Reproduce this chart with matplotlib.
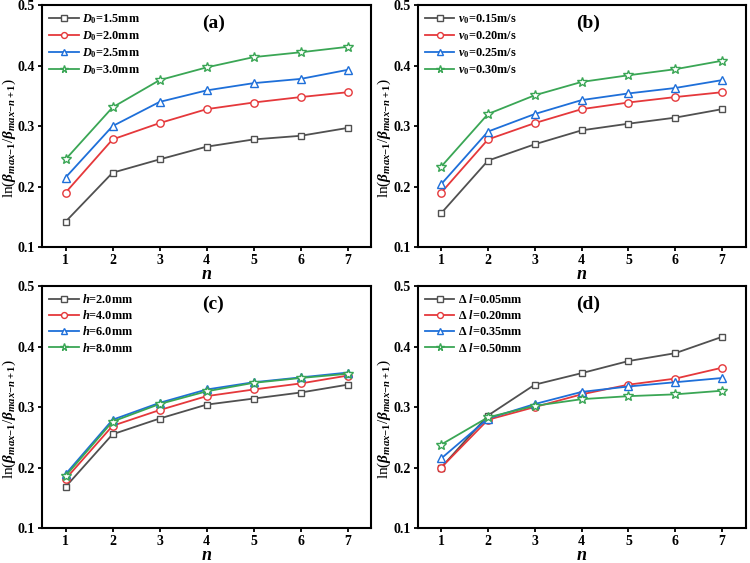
import matplotlib
matplotlib.use("Agg")
import matplotlib.pyplot as plt

plt.rcParams['font.family'] = ['Liberation Serif', 'DejaVu Serif']
plt.rcParams['font.weight'] = 'bold'
plt.rcParams['mathtext.fontset'] = 'custom'
plt.rcParams['mathtext.rm'] = 'Liberation Serif:bold'
plt.rcParams['mathtext.it'] = 'Liberation Serif:bold:italic'
plt.rcParams['mathtext.bf'] = 'Liberation Serif:bold'

n = [1, 2, 3, 4, 5, 6, 7]

# (a) D0
labels_a = ['$D_0$=1.5mm', '$D_0$=2.0mm', '$D_0$=2.5mm', '$D_0$=3.0mm']
a_15 = [0.142, 0.223, 0.245, 0.266, 0.278, 0.284, 0.297]
a_20 = [0.190, 0.278, 0.305, 0.328, 0.339, 0.348, 0.356]
a_25 = [0.215, 0.300, 0.340, 0.359, 0.371, 0.378, 0.393]
a_30 = [0.245, 0.331, 0.376, 0.397, 0.414, 0.422, 0.431]

# (b) v0
labels_b = ['$v_0$=0.15m/s', '$v_0$=0.20m/s', '$v_0$=0.25m/s', '$v_0$=0.30m/s']
b_15 = [0.156, 0.243, 0.270, 0.293, 0.304, 0.314, 0.328]
b_20 = [0.190, 0.278, 0.305, 0.328, 0.339, 0.348, 0.356]
b_25 = [0.204, 0.291, 0.320, 0.343, 0.354, 0.363, 0.376]
b_30 = [0.233, 0.320, 0.351, 0.373, 0.384, 0.394, 0.408]

# (c) h
labels_c = ['$h$=2.0mm', '$h$=4.0mm', '$h$=6.0mm', '$h$=8.0mm']
c_2 = [0.168, 0.255, 0.281, 0.304, 0.314, 0.324, 0.337]
c_4 = [0.181, 0.269, 0.295, 0.318, 0.329, 0.339, 0.352]
c_6 = [0.189, 0.279, 0.307, 0.329, 0.341, 0.349, 0.357]
c_8 = [0.186, 0.276, 0.305, 0.326, 0.340, 0.348, 0.355]

# (d) delta l
labels_d = [r'$\Delta\ l$=0.05mm', r'$\Delta\ l$=0.20mm', r'$\Delta\ l$=0.35mm', r'$\Delta\ l$=0.50mm']
d_05 = [0.200, 0.286, 0.337, 0.356, 0.376, 0.389, 0.416]
d_20 = [0.200, 0.279, 0.300, 0.321, 0.337, 0.347, 0.365]
d_35 = [0.215, 0.281, 0.305, 0.325, 0.334, 0.341, 0.348]
d_50 = [0.238, 0.283, 0.302, 0.313, 0.318, 0.321, 0.327]

colors = ['#505050', '#e5383b', '#1e6fd9', '#3aa655']
markers = ['s', 'o', '^', '*']
msizes = [4.8, 5.3, 5.8, 7.0]

panels = [
    ('(a)', labels_a, [a_15, a_20, a_25, a_30]),
    ('(b)', labels_b, [b_15, b_20, b_25, b_30]),
    ('(c)', labels_c, [c_2, c_4, c_6, c_8]),
    ('(d)', labels_d, [d_05, d_20, d_35, d_50]),
]

fig = plt.figure(figsize=(7.5, 5.63), dpi=100)
positions = [
    [0.056, 0.561, 0.439, 0.430],
    [0.557, 0.561, 0.437, 0.430],
    [0.056, 0.062, 0.439, 0.430],
    [0.557, 0.062, 0.437, 0.430],
]

ylab = r'ln($\beta_{max\mathrm{-}1}$/$\beta_{max\mathrm{-}n+1}$)'

for pos, (tag, labels, series) in zip(positions, panels):
    ax = fig.add_axes(pos)
    for ys, lab, c, m, ms in zip(series, labels, colors, markers, msizes):
        ax.plot(n, ys, color=c, marker=m, markersize=ms, markerfacecolor='white',
                markeredgecolor=c, markeredgewidth=1.0, linewidth=1.3, label=lab)
    ax.set_xlim(0.5, 7.5)
    ax.set_ylim(0.1, 0.5)
    ax.set_xticks(n)
    ax.set_yticks([0.1, 0.2, 0.3, 0.4, 0.5])
    ax.tick_params(direction='out', length=3, width=1.3, labelsize=10, pad=2)
    for sp in ax.spines.values():
        sp.set_linewidth(1.5)
    ax.set_xlabel('$n$', fontsize=13, va='center')
    ax.xaxis.set_label_coords(0.5, -0.115)
    ax.set_ylabel(ylab, fontsize=11)
    ax.yaxis.set_label_coords(-0.074, 0.45)
    ax.text(0.52, 0.925, tag, transform=ax.transAxes, ha='center', va='center',
            fontsize=14, fontweight='bold')
    ax.legend(loc='upper left', frameon=False, fontsize=8.8, handlelength=2.4,
              handletextpad=0.3, labelspacing=0.25, borderaxespad=0.2,
              markerscale=0.8)

fig.savefig('out.png', dpi=100)
